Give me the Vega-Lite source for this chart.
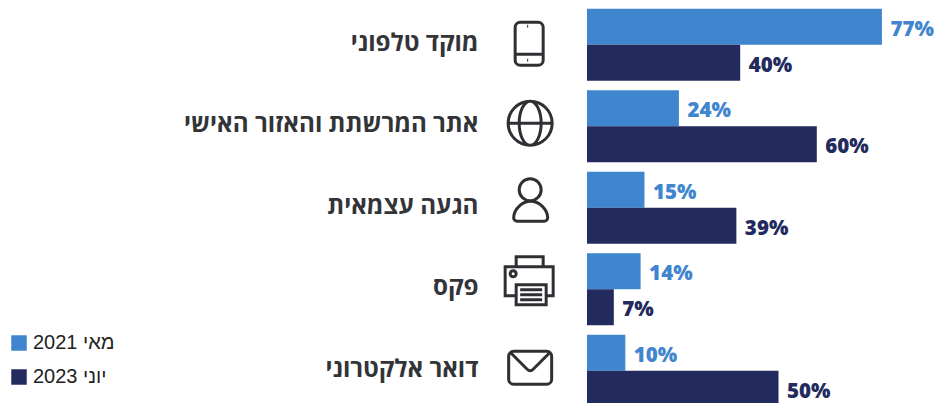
{
"$schema":"https://vega.github.io/schema/vega-lite/v6.json",
"width":347,"height":399,
"padding":{"left":587,"top":4,"right":0,"bottom":0},
"autosize":{"type":"none"},
"background":"white",
"datasets":{
"rows":[
{"channel":"מוקד טלפוני","period":"מאי 2021","share":0.77},
{"channel":"מוקד טלפוני","period":"יוני 2023","share":0.40},
{"channel":"אתר המרשתת והאזור האישי","period":"מאי 2021","share":0.24},
{"channel":"אתר המרשתת והאזור האישי","period":"יוני 2023","share":0.60},
{"channel":"הגעה עצמאית","period":"מאי 2021","share":0.15},
{"channel":"הגעה עצמאית","period":"יוני 2023","share":0.39},
{"channel":"פקס","period":"מאי 2021","share":0.14},
{"channel":"פקס","period":"יוני 2023","share":0.07},
{"channel":"דואר אלקטרוני","period":"מאי 2021","share":0.10},
{"channel":"דואר אלקטרוני","period":"יוני 2023","share":0.50}
],
"channels":[{"channel":"מוקד טלפוני"},{"channel":"אתר המרשתת והאזור האישי"},{"channel":"הגעה עצמאית"},{"channel":"פקס"},{"channel":"דואר אלקטרוני"}]
},
"encoding":{
"y":{"field":"channel","type":"nominal","title":null,
"sort":["מוקד טלפוני","אתר המרשתת והאזור האישי","הגעה עצמאית","פקס","דואר אלקטרוני"],
"scale":{"range":[0,407.5],"paddingInner":0.1166,"paddingOuter":0.0583},
"axis":{"domain":false,"ticks":false,"labelPadding":109,"labelOffset":-1,"labelFont":"Open Sans","labelFontSize":24.2,"labelFontWeight":"bold","labelColor":"#333438","labelLimit":400}}
},
"layer":[
{"data":{"name":"rows"},"mark":{"type":"bar"},
"encoding":{
"x":{"field":"share","type":"quantitative","title":null,"scale":{"domain":[0,0.906],"nice":false},"axis":null},
"yOffset":{"field":"period","type":"nominal","sort":["מאי 2021","יוני 2023"],"scale":{"paddingInner":0,"paddingOuter":0}},
"color":{"field":"period","type":"nominal","sort":["מאי 2021","יוני 2023"],
"scale":{"domain":["מאי 2021","יוני 2023"],"range":["#3f86cf","#222a5e"]},
"legend":{"title":null,"orient":"none","legendX":-578,"legendY":329,"symbolType":"square","symbolSize":240,"symbolStrokeWidth":0,"labelFont":"Liberation Sans","labelFontSize":20,"labelColor":"#222","rowPadding":14,"symbolOpacity":1,"labelOffset":4}}
}},
{"data":{"name":"rows"},"mark":{"type":"text","align":"left","baseline":"middle","dx":8.5,"dy":3,"font":"Open Sans","fontWeight":800,"fontSize":20.5},
"encoding":{
"x":{"field":"share","type":"quantitative"},
"yOffset":{"field":"period","type":"nominal","sort":["מאי 2021","יוני 2023"]},
"text":{"field":"share","type":"quantitative","format":".0%"},
"color":{"field":"period","type":"nominal","legend":null}
}},
{"data":{"name":"channels"},"mark":{"type":"point","filled":false,"stroke":"#2f3034","strokeWidth":3,"opacity":1,"size":10000},
"encoding":{
"x":{"datum":-0.151,"type":"quantitative"},
"shape":{"field":"channel","type":"nominal","legend":null,"scale":{
"domain":["מוקד טלפוני","אתר המרשתת והאזור האישי","הגעה עצמאית","פקס","דואר אלקטרוני"],
"range":[
"M-0.18,-0.45H0.18A0.1,0.1,0,0,1,0.28,-0.35V0.31A0.1,0.1,0,0,1,0.18,0.41H-0.18A0.1,0.1,0,0,1,-0.28,0.31V-0.35A0.1,0.1,0,0,1,-0.18,-0.45Z M-0.28,0.19H0.28 M-0.04,-0.37H-0.02 M-0.04,0.31H-0.02",
"M-0.42,-0.06A0.44,0.44,0,1,1,0.46,-0.06A0.44,0.44,0,1,1,-0.42,-0.06Z M-0.20,-0.06A0.22,0.44,0,1,1,0.24,-0.06A0.22,0.44,0,1,1,-0.20,-0.06Z M-0.42,-0.06H0.46",
"M-0.20,-0.36A0.22,0.22,0,1,1,0.24,-0.36A0.22,0.22,0,1,1,-0.20,-0.36Z M-0.24,0.27H0.30A0.07,0.07,0,0,0,0.37,0.20C0.37,0.03,0.20,-0.13,0.03,-0.13C-0.14,-0.13,-0.31,0.03,-0.31,0.20A0.07,0.07,0,0,0,-0.24,0.27Z",
"M-0.26,0.13H-0.48V-0.45H0.48V0.13H0.34 M-0.26,-0.45V-0.65H0.28V-0.45 M-0.26,-0.09H0.34V0.31H-0.26Z M-0.38,-0.31A0.06,0.06,0,1,1,-0.26,-0.31A0.06,0.06,0,1,1,-0.38,-0.31Z M-0.18,0.01H0.26 M-0.18,0.11H0.26 M-0.18,0.21H0.26",
"M-0.31,-0.39H0.35A0.1,0.1,0,0,1,0.45,-0.29V0.17A0.1,0.1,0,0,1,0.35,0.27H-0.31A0.1,0.1,0,0,1,-0.41,0.17V-0.29A0.1,0.1,0,0,1,-0.31,-0.39Z M-0.37,-0.36L-0.04,-0.03Q0.02,0.03,0.08,-0.03L0.41,-0.36"
]}}
}}
],
"config":{"view":{"stroke":null}}
}
